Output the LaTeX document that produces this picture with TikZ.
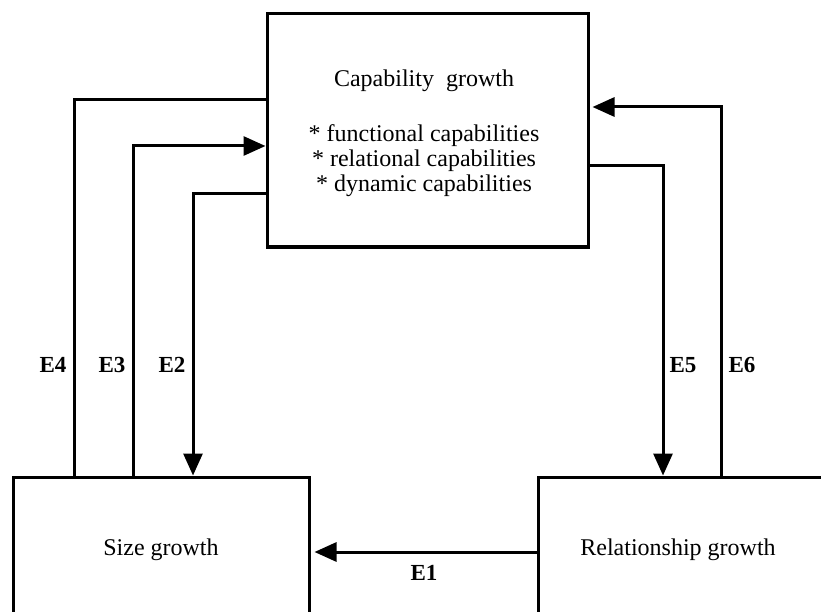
\documentclass[tikz,border=0pt]{standalone}
\usepackage{fontspec}
\setmainfont{Liberation Serif}
\usetikzlibrary{arrows.meta}
\begin{document}
\begin{tikzpicture}[x=1pt,y=-1pt,
  box/.style={draw,line width=3pt,inner sep=0pt,minimum width=#1},
  txt/.style={font=\fontsize{24}{25}\selectfont,align=center,inner sep=0pt},
  elbl/.style={font=\fontsize{23}{25}\selectfont\bfseries,inner sep=0pt},
  link/.style={line width=3pt},
  arr/.style={link,-{Triangle[length=22pt,width=19pt]}}]
\useasboundingbox (0,0) rectangle (821,612);
\clip (0,0) rectangle (821,612);

% the three blocks
\node[box=321pt,minimum height=233pt] (cap) at (427.5,130.5) {};
\node[box=296pt,minimum height=200pt] (size) at (161,577) {};
\node[box=300pt,minimum height=200pt] (rel) at (688,577) {};

% block texts
\node[txt,anchor=base] (captitle) at (424,87) {Capability\ \ growth};
\node[txt,anchor=base] (caplist) at (424,192)
  {* functional capabilities\\* relational capabilities\\* dynamic capabilities};
\node[txt] (sizelbl) at (161,550) {Size growth};
\node[txt] (rellbl) at (678,550) {Relationship growth};

% links between the blocks
\draw[link] (74,0 |- size.north) |- (cap.west |- 0,100);
\draw[arr] (133,0 |- size.north) |- (cap.west |- 0,146);
\draw[arr] (cap.west |- 0,194) -| (193,0 |- size.north);
\draw[arr] (cap.east |- 0,166) -| (663,0 |- rel.north);
\draw[arr,shorten >=3pt] (721,0 |- rel.north) |- (cap.east |- 0,107);
\draw[arr,shorten >=4pt] (rel.west |- 0,552) -- (size.east |- 0,552);

% link labels
\node[elbl] (e4) at (53,365) {E4};
\node[elbl] (e3) at (112,365) {E3};
\node[elbl] (e2) at (172,365) {E2};
\node[elbl] (e5) at (683,365) {E5};
\node[elbl] (e6) at (742,365) {E6};
\node[elbl] (e1) at (424,573) {E1};
\end{tikzpicture}
\end{document}
